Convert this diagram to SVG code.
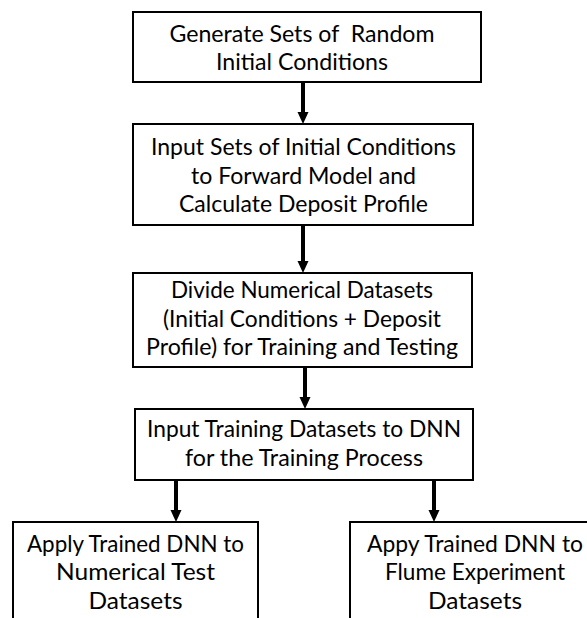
<svg xmlns="http://www.w3.org/2000/svg" width="587" height="618" viewBox="0 0 587 618">
<style>
.box{fill:#fff;stroke:#000;stroke-width:2}
.t{font-family:Lato,"Open Sans","Liberation Sans",sans-serif;font-size:23px;fill:#000;text-anchor:middle}
.shaft{stroke:#000;stroke-width:4;fill:none}
.head{fill:#000}
</style>
<rect width="587" height="618" fill="#fff"/>
<g id="connectors">
<line class="shaft" x1="303" y1="82" x2="303" y2="114"/><polygon class="head" points="297.5,112 308.5,112 303,124"/>
<line class="shaft" x1="303" y1="225" x2="303" y2="263"/><polygon class="head" points="297.5,261 308.5,261 303,273"/>
<line class="shaft" x1="305" y1="367" x2="305" y2="399"/><polygon class="head" points="299.5,397 310.5,397 305,409"/>
<line class="shaft" x1="176" y1="480" x2="176" y2="512"/><polygon class="head" points="170.5,510 181.5,510 176,522"/>
<line class="shaft" x1="434" y1="480" x2="434" y2="512"/><polygon class="head" points="428.5,510 439.5,510 434,522"/>
</g>
<g id="n1">
<rect class="box" x="133" y="12" width="348" height="70"/>
<text class="t" x="302" y="41.5" textLength="265" lengthAdjust="spacingAndGlyphs" xml:space="preserve">Generate Sets of  Random</text>
<text class="t" x="302" y="70" textLength="172" lengthAdjust="spacingAndGlyphs">Initial Conditions</text>
</g>
<g id="n2">
<rect class="box" x="133" y="124" width="340" height="101"/>
<text class="t" x="303.5" y="155" textLength="305" lengthAdjust="spacingAndGlyphs">Input Sets of Initial Conditions</text>
<text class="t" x="303.5" y="183.5" textLength="225" lengthAdjust="spacingAndGlyphs">to Forward Model and</text>
<text class="t" x="303.5" y="212" textLength="249" lengthAdjust="spacingAndGlyphs">Calculate Deposit Profile</text>
</g>
<g id="n3">
<rect class="box" x="133" y="273" width="339" height="94"/>
<text class="t" x="302" y="297.5" textLength="262" lengthAdjust="spacingAndGlyphs">Divide Numerical Datasets</text>
<text class="t" x="302" y="326.5" textLength="278" lengthAdjust="spacingAndGlyphs">(Initial Conditions + Deposit</text>
<text class="t" x="302" y="355" textLength="312" lengthAdjust="spacingAndGlyphs">Profile) for Training and Testing</text>
</g>
<g id="n4">
<rect class="box" x="135" y="409" width="338" height="71"/>
<text class="t" x="304" y="437" textLength="314" lengthAdjust="spacingAndGlyphs">Input Training Datasets to DNN</text>
<text class="t" x="304" y="466" textLength="238" lengthAdjust="spacingAndGlyphs">for the Training Process</text>
</g>
<g id="n5">
<rect class="box" x="13" y="522" width="245" height="110"/>
<text class="t" x="135.5" y="551.5" textLength="217" lengthAdjust="spacingAndGlyphs">Apply Trained DNN to</text>
<text class="t" x="135.5" y="580" textLength="159" lengthAdjust="spacingAndGlyphs">Numerical Test</text>
<text class="t" x="135.5" y="608.5" textLength="94" lengthAdjust="spacingAndGlyphs">Datasets</text>
</g>
<g id="n6">
<rect class="box" x="350" y="522" width="250" height="110"/>
<text class="t" x="475" y="551.5" textLength="216" lengthAdjust="spacingAndGlyphs">Appy Trained DNN to</text>
<text class="t" x="475" y="580" textLength="180" lengthAdjust="spacingAndGlyphs">Flume Experiment</text>
<text class="t" x="475" y="608.5" textLength="94" lengthAdjust="spacingAndGlyphs">Datasets</text>
</g>
</svg>
